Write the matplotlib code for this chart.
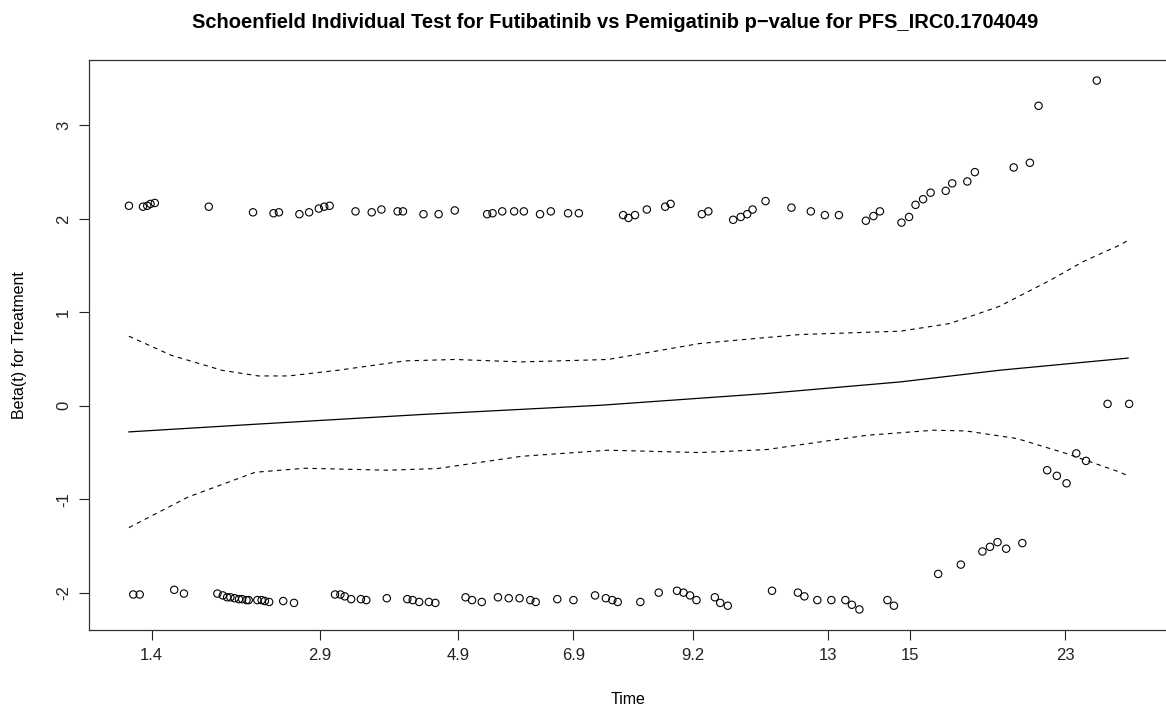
import matplotlib
matplotlib.use("Agg")
import matplotlib.pyplot as plt
import numpy as np

plt.rcParams['font.family'] = ['Liberation Sans', 'DejaVu Sans']

# x is the transformed (km) time scale used by the Schoenfield residual plot
tick_pos = [0.058, 0.214, 0.342, 0.449, 0.560, 0.685, 0.761, 0.905]
tick_labels = ["1.4", "2.9", "4.9", "6.9", "9.2", "13", "15", "23"]

# scaled Schoenfield residuals
resid_x = [
    0.037, 0.050, 0.054, 0.057, 0.061, 0.111, 0.152, 0.171, 0.176, 0.195,
    0.204, 0.213, 0.218, 0.223, 0.247, 0.262, 0.271, 0.286, 0.291, 0.310,
    0.324, 0.339, 0.369, 0.374, 0.383, 0.394, 0.403, 0.418, 0.428, 0.444,
    0.454, 0.495, 0.500, 0.506, 0.517, 0.534, 0.539, 0.568, 0.574, 0.597,
    0.604, 0.610, 0.615, 0.627, 0.651, 0.669, 0.682, 0.695, 0.720, 0.727,
    0.733, 0.753, 0.760, 0.766, 0.773, 0.780, 0.794, 0.800, 0.814, 0.821,
    0.857, 0.872, 0.880, 0.934,
    0.888, 0.897, 0.906, 0.915, 0.924, 0.944, 0.964,
    0.041, 0.047, 0.079, 0.088, 0.119, 0.124, 0.128, 0.131, 0.135, 0.139,
    0.142, 0.146, 0.148, 0.156, 0.160, 0.163, 0.167, 0.180, 0.190, 0.228,
    0.233, 0.237, 0.243, 0.252, 0.257, 0.276, 0.295, 0.300, 0.306, 0.315,
    0.321, 0.349, 0.355, 0.364, 0.379, 0.389, 0.399, 0.409, 0.414, 0.434,
    0.449, 0.469, 0.479, 0.485, 0.490, 0.511, 0.528, 0.545, 0.551, 0.557,
    0.563, 0.580, 0.585, 0.592, 0.633, 0.657, 0.663, 0.675, 0.688, 0.701,
    0.707, 0.714, 0.740, 0.746, 0.787, 0.808, 0.828, 0.835, 0.842, 0.850,
    0.865,
]
resid_y = [
    2.14, 2.13, 2.14, 2.16, 2.17, 2.13, 2.07, 2.06, 2.07, 2.05,
    2.07, 2.11, 2.13, 2.14, 2.08, 2.07, 2.10, 2.08, 2.08, 2.05,
    2.05, 2.09, 2.05, 2.06, 2.08, 2.08, 2.08, 2.05, 2.08, 2.06,
    2.06, 2.04, 2.01, 2.04, 2.10, 2.13, 2.16, 2.05, 2.08, 1.99,
    2.02, 2.05, 2.10, 2.19, 2.12, 2.08, 2.04, 2.04, 1.98, 2.03,
    2.08, 1.96, 2.02, 2.15, 2.21, 2.28, 2.30, 2.38, 2.40, 2.50,
    2.55, 2.60, 3.21, 3.48,
    -0.69, -0.75, -0.83, -0.51, -0.59, 0.02, 0.02,
    -2.02, -2.02, -1.97, -2.01, -2.01, -2.03, -2.05, -2.05, -2.06, -2.07,
    -2.07, -2.08, -2.08, -2.08, -2.08, -2.09, -2.10, -2.09, -2.11, -2.02,
    -2.02, -2.04, -2.07, -2.07, -2.08, -2.06, -2.07, -2.08, -2.10, -2.10,
    -2.11, -2.05, -2.08, -2.10, -2.05, -2.06, -2.06, -2.08, -2.10, -2.07,
    -2.08, -2.03, -2.06, -2.08, -2.10, -2.10, -2.00, -1.98, -2.00, -2.03,
    -2.08, -2.05, -2.11, -2.14, -1.98, -2.00, -2.04, -2.08, -2.08, -2.08,
    -2.13, -2.18, -2.08, -2.14, -1.80, -1.70, -1.56, -1.51, -1.46, -1.53,
    -1.47,
]

# smoothed beta(t) and its confidence band
fit_x = [0.037, 0.154, 0.308, 0.474, 0.628, 0.752, 0.844, 0.963]
fit_y = [-0.28, -0.198, -0.094, 0.005, 0.131, 0.255, 0.380, 0.510]

upper_x = [0.037, 0.076, 0.123, 0.157, 0.185, 0.231, 0.293, 0.339, 0.401,
           0.481, 0.566, 0.659, 0.752, 0.798, 0.844, 0.891, 0.921, 0.955, 0.963]
upper_y = [0.744, 0.541, 0.380, 0.319, 0.319, 0.380, 0.480, 0.495, 0.469,
           0.495, 0.666, 0.762, 0.798, 0.880, 1.065, 1.344, 1.540, 1.718, 1.770]

lower_x = [0.037, 0.092, 0.154, 0.200, 0.277, 0.323, 0.401, 0.481, 0.566,
           0.628, 0.721, 0.783, 0.813, 0.860, 0.906, 0.955, 0.963]
lower_y = [-1.304, -0.976, -0.712, -0.669, -0.690, -0.672, -0.541, -0.476, -0.501,
           -0.469, -0.316, -0.262, -0.270, -0.351, -0.512, -0.709, -0.750]

W, H = 1166, 705
fig = plt.figure(figsize=(W / 100, H / 100), dpi=100)
ax = fig.add_axes([89 / W, 75 / H, 1079 / W, 570 / H])

ax.scatter(resid_x, resid_y, s=28, facecolors='none', edgecolors='black', linewidths=0.8)
ax.plot(fit_x, fit_y, color='black', lw=0.9)
ax.plot(upper_x, upper_y, color='black', lw=0.8, dashes=(4, 4))
ax.plot(lower_x, lower_y, color='black', lw=0.8, dashes=(4, 4))

ax.set_xlim(0, 1)
ax.set_ylim(-2.40, 3.70)
ax.set_xticks(tick_pos)
ax.set_xticklabels(tick_labels)
ax.set_yticks([-2, -1, 0, 1, 2, 3])
ax.set_yticklabels(["-2", "-1", "0", "1", "2", "3"], rotation=90, va='center')

ax.tick_params(direction='out', length=7, width=0.8, labelsize=12, colors='#222222', pad=6)
ax.tick_params(axis='y', pad=6)
for sp in ax.spines.values():
    sp.set_linewidth(0.9)
    sp.set_color('#333333')

ax.set_xlabel("Time", fontsize=11.5, labelpad=21)
ax.set_ylabel("Beta(t) for Treatment", fontsize=11.5, labelpad=21)
fig.text(615 / W, 1 - 23 / H,
         "Schoenfield Individual Test for Futibatinib vs Pemigatinib p\u2212value for PFS_IRC0.1704049",
         ha='center', va='center', fontsize=14.5, fontweight='bold')

fig.savefig("out.png", dpi=100)
